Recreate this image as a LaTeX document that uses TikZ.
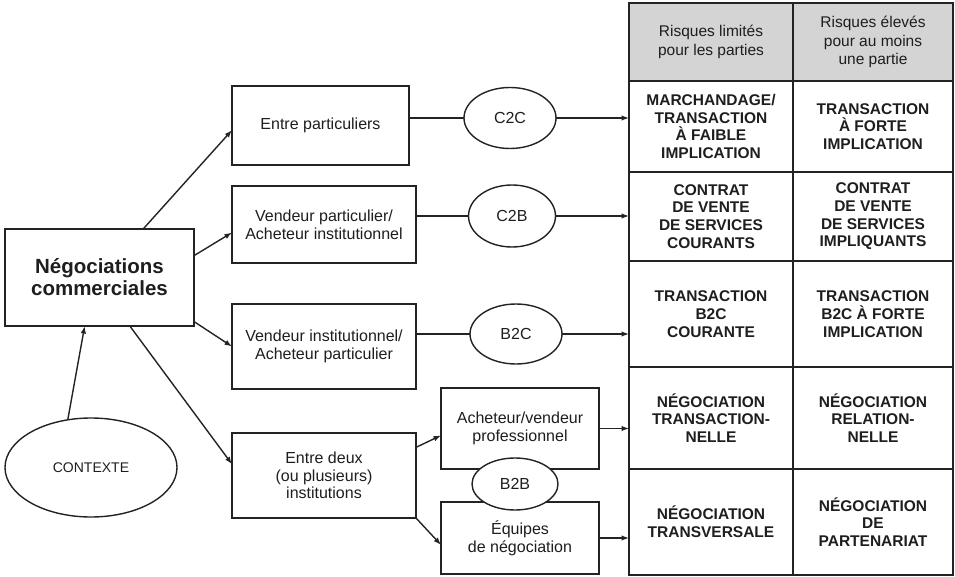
\documentclass[tikz,border=0pt]{standalone}
\usepackage{fontspec}
\setmainfont{Liberation Sans}
\usetikzlibrary{arrows.meta,shapes.geometric}
\definecolor{ink}{RGB}{35,35,35}
\definecolor{txt}{RGB}{30,30,30}
\definecolor{headgray}{RGB}{212,212,212}
\begin{document}
\begin{tikzpicture}[x=1pt,y=-1pt,
  every node/.style={text=txt, inner sep=0pt, outer sep=0pt},
  box/.style={draw=ink, line width=1.4pt, fill=white, align=center,
    font=\fontsize{16}{17.7}\selectfont},
  oval/.style={draw=ink, line width=1.4pt, fill=white, ellipse, align=center,
    font=\fontsize{16}{17.7}\selectfont},
  cell/.style={draw=ink, line width=1.8pt, align=center,
    font=\bfseries\fontsize{15.5}{17.7}\selectfont},
  headcell/.style={cell, fill=headgray, font=\fontsize{15.5}{18.2}\selectfont},
  link/.style={draw=ink, line width=1.4pt},
  arrow/.style={link, -{Latex[length=7.5pt,width=5.5pt]}}
]
\useasboundingbox (0,0) rectangle (955,577);

% classification grid
\node[headcell, minimum width=164pt, minimum height=78pt] (h1) at (711,42) {Risques limités\\pour les parties};
\node[headcell, minimum width=160pt, minimum height=78pt] (h2) at (873,42) {Risques élevés\\pour au moins\\une partie};
\node[cell, minimum width=164pt, minimum height=91pt] (r1c1) at (711,126.5) {MARCHANDAGE/\\TRANSACTION\\À FAIBLE\\IMPLICATION};
\node[cell, minimum width=160pt, minimum height=91pt] (r1c2) at (873,126.5) {TRANSACTION\\À FORTE\\IMPLICATION};
\node[cell, minimum width=164pt, minimum height=89pt] (r2c1) at (711,216.5) {CONTRAT\\DE VENTE\\DE SERVICES\\COURANTS};
\node[cell, minimum width=160pt, minimum height=89pt] (r2c2) at (873,216.5) {CONTRAT\\DE VENTE\\DE SERVICES\\IMPLIQUANTS};
\node[cell, minimum width=164pt, minimum height=106pt] (r3c1) at (711,314) {TRANSACTION\\B2C\\COURANTE};
\node[cell, minimum width=160pt, minimum height=106pt] (r3c2) at (873,314) {TRANSACTION\\B2C À FORTE\\IMPLICATION};
\node[cell, minimum width=164pt, minimum height=102pt] (r4c1) at (711,418) {NÉGOCIATION\\TRANSACTION-\\NELLE};
\node[cell, minimum width=160pt, minimum height=102pt] (r4c2) at (873,418) {NÉGOCIATION\\RELATION-\\NELLE};
\node[cell, minimum width=164pt, minimum height=106pt] (r5c1) at (711,522) {NÉGOCIATION\\TRANSVERSALE};
\node[cell, minimum width=160pt, minimum height=106pt] (r5c2) at (873,522) {NÉGOCIATION\\DE\\PARTENARIAT};

% main node and context
\node[box, minimum width=189pt, minimum height=97pt,
  font=\bfseries\fontsize{20.5}{22}\selectfont] (neg) at (99.5,277.5) {Négociations\\commerciales};
\node[oval, minimum width=172pt, minimum height=99pt,
  font=\fontsize{14}{16}\selectfont] (ctx) at (91,467.5) {CONTEXTE};

% types of parties
\node[box, minimum width=177pt, minimum height=79pt] (ep) at (320.5,125.5) {Entre particuliers};
\node[box, minimum width=184pt, minimum height=77pt] (vp) at (324,224.5) {Vendeur particulier/\\Acheteur institutionnel};
\node[box, minimum width=184pt, minimum height=85pt] (vi) at (324,346.5) {Vendeur institutionnel/\\Acheteur particulier};
\node[box, minimum width=184pt, minimum height=85pt] (ed) at (324,475.5) {Entre deux\\(ou plusieurs)\\institutions};
\node[box, minimum width=158pt, minimum height=81pt] (av) at (520,428.5) {Acheteur/vendeur\\professionnel};
\node[box, minimum width=158pt, minimum height=72pt] (eq) at (520,538) {Équipes\\de négociation};

% market labels
\node[oval, minimum width=92pt, minimum height=61pt] (c2c) at (510,118) {C2C};
\node[oval, minimum width=87pt, minimum height=62pt] (c2b) at (512,216) {C2B};
\node[oval, minimum width=92pt, minimum height=60pt] (b2c) at (516,334) {B2C};
\node[oval, minimum width=86pt, minimum height=52pt] (b2b) at (515,484) {B2B};

% connectors from the main node
\draw[arrow] (ctx.116) -- (neg.-107);
\draw[arrow] (neg.48) -- (ep.183);
\draw[arrow] (neg.13) -- (vp.185);
\draw[arrow] (neg.-25) -- (vi.west);
\draw[arrow] (neg.-58) -- (ed.173);
\draw[arrow] (ed.17) -- (av.185);
\draw[arrow] (ed.south east) -- (eq.185);

% connectors towards the grid
\draw[link] (ep.east |- c2c.west) -- (c2c.west);
\draw[arrow] (c2c.east) -- (c2c.east -| r1c1.west);
\draw[link] (vp.east |- c2b.west) -- (c2b.west);
\draw[arrow] (c2b.east) -- (c2b.east -| r2c1.west);
\draw[link] (vi.east |- b2c.west) -- (b2c.west);
\draw[arrow] (b2c.east) -- (b2c.east -| r3c1.west);
\draw[arrow] (av.east) -- (av.east -| r4c1.west);
\draw[arrow] (eq.east) -- (eq.east -| r5c1.west);
\end{tikzpicture}
\end{document}
